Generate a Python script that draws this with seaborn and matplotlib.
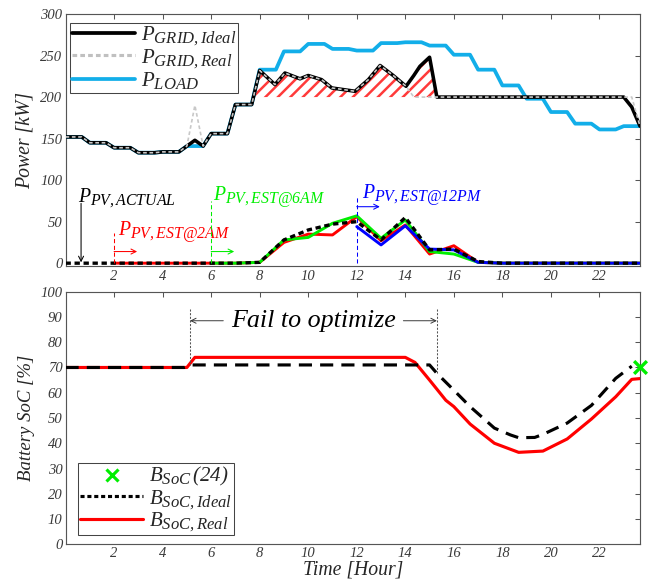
import numpy as np
import pandas as pd
import matplotlib
matplotlib.use("Agg")
import matplotlib.pyplot as plt
import matplotlib._mathtext as _mt
from matplotlib.lines import Line2D
import seaborn as sns

# ---------------- data ----------------
load_hours = np.arange(24)
load_kw = [152, 145, 139, 133, 134, 141, 156, 191, 233, 255, 264, 258,
           256, 265, 266, 262, 251, 233, 214, 198, 182, 168, 161, 165]
load_step = 2 / 3  # each hourly value is held for 40 min before the next sample

grid_t = [0, 0.67, 1, 1.67, 2, 2.67, 3, 3.67, 4, 4.67, 5, 5.33, 5.67, 6, 6.67,
          7, 7.67, 8, 8.63, 9.04, 9.66, 10.0, 10.55, 10.97, 11.45, 11.93,
          12.48, 12.96, 13.5, 14.03, 14.35, 14.6, 15.0, 15.3, 23.0, 23.33, 23.67]
grid_ideal = [152, 152, 145, 145, 139, 139, 133, 133, 134, 134, 141, 148, 141,
              156, 156, 191, 191, 232, 215, 229, 222, 226, 221, 211, 209, 207,
              221, 238, 226, 213, 226, 237, 248, 200, 200, 188, 165]
grid_real = [152, 152, 145, 145, 139, 139, 133, 133, 134, 134, 141, 190, 141,
             156, 156, 191, 191, 232, 215, 229, 222, 226, 221, 211, 209, 207,
             221, 238, 226, 213, 200, 200, 200, 200, 200, 200, 165]

pv_hours = np.arange(25)
pv_actual = [0, 0, 0, 0, 0, 0, 0, 0, 1, 28, 40, 47, 50, 28, 55, 16, 17, 2,
             0, 0, 0, 0, 0, 0, 0]
pv_est_2am = [0, 0, 0, 0, 0, 0, 1, 25, 35, 34, 56, 27, 46, 11, 21, 1,
              0, 0, 0, 0, 0, 0, 0]            # hours 2..24
pv_est_6am = [0, 0, 1, 28, 31, 48, 57, 30, 52, 14, 11, 1,
              0, 0, 0, 0, 0, 0, 0]            # hours 6..24
pv_est_12pm = [44, 22, 45, 17, 16, 1, 0, 0, 0, 0, 0, 0, 0]  # hours 12..24

soc_ideal_t = [0, 4.9, 5.2, 15.0, 15.3, 16.0, 16.67, 17.67, 18.33, 18.67,
               19.33, 19.67, 20.67, 21.67, 22.67, 23.33]
soc_ideal = [70, 70, 71, 71, 67.7, 61, 54.5, 46, 43.3, 42.2, 42.3, 43.5,
             48, 55, 65.7, 70.5]
soc_real_t = [0, 5.0, 5.33, 14.0, 14.4, 15.0, 15.67, 16.0, 16.67, 17.67,
              18.67, 19.67, 20.67, 21.67, 22.67, 23.33, 23.67]
soc_real = [70, 70, 74, 74, 72, 65, 57, 54.5, 47.6, 40, 36.4, 36.9, 41.7,
            49.6, 58.4, 65.3, 65.6]
soc_target_t = [23.67]
soc_target = [70]

fail_start, fail_end = 5.13, 15.3

# ---------------- style ----------------
DPI = 75
_mt.SHRINK_FACTOR = 0.8   # larger subscripts, as in the original figure
sns.set_theme(style="white")
plt.rcParams.update({
    "font.family": ["Liberation Serif", "DejaVu Serif"],
    "font.style": "italic",
    "mathtext.fontset": "custom",
    "mathtext.it": "Liberation Serif:italic",
    "mathtext.rm": "Liberation Serif:italic",
    "mathtext.default": "it",
    "hatch.linewidth": 2.4,
    "axes.edgecolor": "#555555",
    "axes.linewidth": 1.1,
    "xtick.color": "#555555",
    "ytick.color": "#555555",
    "xtick.labelcolor": "#3a3a3a",
    "ytick.labelcolor": "#3a3a3a",
})

BLUE_LOAD = "#12aee9"

fig = plt.figure(figsize=(654 / DPI, 582 / DPI), dpi=DPI)
ax1 = fig.add_axes([0.1002, 0.5421, 0.8784, 0.4338])
ax2 = fig.add_axes([0.1002, 0.0648, 0.8784, 0.4340])

# time axis of the load (hold each hourly value for 40 min)
load_t = np.column_stack([load_hours, load_hours + load_step]).ravel()
load_v = np.repeat(load_kw, 2)

# ---------------- top panel ----------------
sns.lineplot(x=load_t, y=load_v, ax=ax1, color=BLUE_LOAD, lw=3.6,
             estimator=None, sort=False, zorder=3)
sns.lineplot(x=grid_t, y=grid_ideal, ax=ax1, color="black", lw=3.4,
             estimator=None, sort=False, zorder=4)
sns.lineplot(x=grid_t, y=grid_real, ax=ax1, color="#c8c8c8", lw=1.6,
             estimator=None, sort=False, zorder=5)
ax1.lines[-1].set_dashes((2.2, 1.6))

gt = np.array(grid_t)
gi = np.array(grid_ideal)
ax1.fill_between(gt, gi, 200, where=(gt >= 8) & (gt <= 15.3), interpolate=True,
                 facecolor="none", edgecolor="#ff3a3a", hatch="//", lw=0,
                 zorder=2)

sns.lineplot(x=pv_hours[2:], y=pv_est_2am, ax=ax1, color="#ff0000", lw=2.8,
             estimator=None, sort=False, zorder=3)
sns.lineplot(x=pv_hours[6:], y=pv_est_6am, ax=ax1, color="#00ee00", lw=2.8,
             estimator=None, sort=False, zorder=3)
sns.lineplot(x=pv_hours[12:], y=pv_est_12pm, ax=ax1, color="#0000ff", lw=2.8,
             estimator=None, sort=False, zorder=3)
sns.lineplot(x=pv_hours, y=pv_actual, ax=ax1, color="black", lw=3.2,
             estimator=None, sort=False, zorder=6)
ax1.lines[-1].set_dashes((1.6, 1.1))

# PV forecast markers
for t0, top, col, ay in [(2, 36, "#ff0000", 14), (6, 75, "#00ee00", 14),
                         (12, 80, "#0000ff", 68)]:
    ax1.plot([t0, t0], [0, top], color=col, lw=1.0, ls=(0, (4, 2.5)), zorder=7)
    ax1.annotate("", xy=(t0 + 0.95, ay), xytext=(t0, ay),
                 arrowprops=dict(arrowstyle="->", color=col, lw=1.0,
                                 shrinkA=0, shrinkB=0), zorder=7)
ax1.annotate("", xy=(0.64, 1), xytext=(0.64, 72),
             arrowprops=dict(arrowstyle="->", color="black", lw=1.0,
                             shrinkA=0, shrinkB=0))

txt_kw = dict(fontsize=19, va="baseline", ha="left")
ax1.text(0.5, 74, r"$P_{PV,ACTUAL}$", color="black", **txt_kw)
ax1.text(2.15, 34, r"$P_{PV,EST@2AM}$", color="#ff0000", **txt_kw)
ax1.text(6.07, 76, r"$P_{PV,EST@6AM}$", color="#00ee00", **txt_kw)
ax1.text(12.2, 78, r"$P_{PV,EST@12PM}$", color="#0000ff", **txt_kw)

ax1.set_xlim(0, 23.67)
ax1.set_ylim(-4, 300)
ax1.set_yticks(np.arange(0, 301, 50))
ax1.set_ylabel("Power [kW]", fontsize=19)
ax1.set_xlabel("")

h_top = [Line2D([], [], color="black", lw=3.6),
         Line2D([], [], color="#c0c0c0", lw=3.0, dashes=(1.5, 1.0)),
         Line2D([], [], color=BLUE_LOAD, lw=3.6)]
leg1 = ax1.legend(h_top, [r"$P_{GRID,Ideal}$", r"$P_{GRID,Real}$", r"$P_{LOAD}$"],
                  loc="upper left", bbox_to_anchor=(0.008, 0.965), fontsize=20,
                  handlelength=3.0, handletextpad=0.3, labelspacing=0.0,
                  borderpad=0.1, borderaxespad=0.0, fancybox=False,
                  framealpha=1, edgecolor="#444444")
leg1.get_frame().set_linewidth(1.0)

# ---------------- bottom panel ----------------
sns.lineplot(x=soc_real_t, y=soc_real, ax=ax2, color="#ff0000", lw=3.0,
             estimator=None, sort=False, zorder=3)
sns.lineplot(x=soc_ideal_t, y=soc_ideal, ax=ax2, color="black", lw=3.0,
             estimator=None, sort=False, zorder=4)
ax2.lines[-1].set_dashes((4.2, 2.6))
sns.scatterplot(x=soc_target_t, y=soc_target, ax=ax2, marker="x", s=150,
                color="#00ee00", linewidth=3.2, zorder=6, clip_on=False)

for tv, bot in [(fail_start, 71), (fail_end, 67.5)]:
    ax2.plot([tv, tv], [93, bot], color="#555555", lw=1.0, ls=(0, (2, 1.5)),
             zorder=5)
ax2.annotate("", xy=(fail_start, 88.5), xytext=(6.5, 88.5),
             arrowprops=dict(arrowstyle="->", color="#333333", lw=0.9,
                             shrinkA=0, shrinkB=0))
ax2.annotate("", xy=(fail_end, 88.5), xytext=(13.92, 88.5),
             arrowprops=dict(arrowstyle="->", color="#333333", lw=0.9,
                             shrinkA=0, shrinkB=0))
ax2.text(10.2, 88.5, "Fail to optimize", fontsize=25, ha="center",
         va="center", color="black")

ax2.set_xlim(0, 23.67)
ax2.set_ylim(0, 100)
ax2.set_yticks(np.arange(0, 101, 10))
ax2.set_ylabel("Battery SoC [%]", fontsize=18)
ax2.set_xlabel("Time [Hour]", fontsize=19, labelpad=0.5)

h_bot = [Line2D([], [], color="#00ee00", marker="x", ls="none", ms=11, mew=3),
         Line2D([], [], color="black", lw=3.0, dashes=(1.3, 0.9)),
         Line2D([], [], color="#ff0000", lw=3.0)]
leg2 = ax2.legend(h_bot, [r"$B_{SoC}\,(24)$", r"$B_{SoC,Ideal}$", r"$B_{SoC,Real}$"],
                  loc="lower left", bbox_to_anchor=(0.022, 0.035), fontsize=20,
                  handlelength=3.0, handletextpad=0.3, labelspacing=0.0,
                  borderpad=0.1, borderaxespad=0.0, fancybox=False,
                  framealpha=1, edgecolor="#444444")
leg2.get_frame().set_linewidth(1.0)

for ax in (ax1, ax2):
    ax.set_xticks(np.arange(2, 23, 2))
    ax.tick_params(direction="in", top=True, right=True, length=5, width=1.0,
                   labelsize=14, pad=3)
    for lab in ax.get_xticklabels() + ax.get_yticklabels():
        lab.set_fontstyle("italic")
    for s in ax.spines.values():
        s.set_visible(True)
    ax.yaxis.set_label_coords(-0.054, 0.5)

fig.savefig("out.png", dpi=DPI)
